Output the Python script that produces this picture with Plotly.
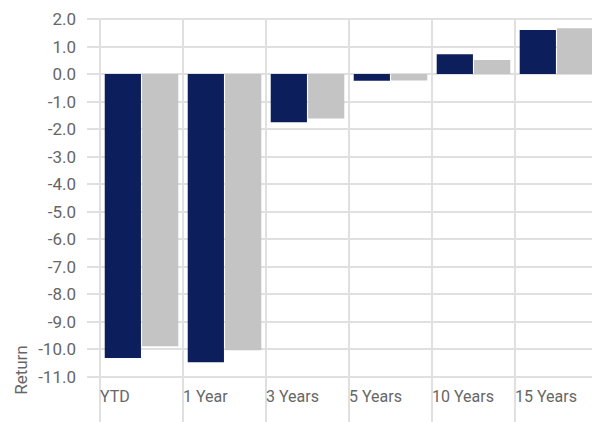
import plotly.graph_objects as go

# Trailing return periods and the two series plotted for each
periods = ["YTD", "1 Year", "3 Years", "5 Years", "10 Years", "15 Years"]
fund_returns = [-10.32, -10.48, -1.75, -0.24, 0.72, 1.60]
benchmark_returns = [-9.90, -10.04, -1.61, -0.23, 0.51, 1.67]
y_ticks = [2, 1, 0, -1, -2, -3, -4, -5, -6, -7, -8, -9, -10, -11]

FONT = "Roboto, 'Liberation Sans', sans-serif"
TEXT = "#666666"
GRID = "#e0e0e0"

# bars sit in the middle of each period band; labels start at the band's left edge
centers = [i + 0.5 for i in range(len(periods))]
edges = list(range(len(periods)))

fig = go.Figure()
fig.add_trace(go.Bar(x=centers, y=fund_returns, name="Fund",
                     marker=dict(color="#0c1f5c", line=dict(width=0))))
fig.add_trace(go.Bar(x=centers, y=benchmark_returns, name="Benchmark",
                     marker=dict(color="#c4c4c4", line=dict(width=0))))

fig.update_layout(
    width=592, height=422,
    margin=dict(l=87, r=0, t=18, b=0),
    paper_bgcolor="white", plot_bgcolor="white",
    barmode="group", bargap=0.1, bargroupgap=0.03,
    showlegend=False,
    font=dict(family=FONT, size=17, color=TEXT),
    xaxis=dict(
        range=[-0.157, 5.928],
        tickvals=edges, ticktext=periods,
        ticklabelposition="outside right",
        showgrid=True, gridcolor=GRID, gridwidth=1.5,
        zeroline=False, showline=False, ticks="",
        anchor="free", position=0.092,
        tickfont=dict(family=FONT, size=16, color=TEXT),
    ),
    yaxis=dict(
        range=[-12.65, 2.04],
        tickvals=y_ticks, ticktext=[f"{v:.1f}" for v in y_ticks],
        showgrid=True, gridcolor=GRID, gridwidth=1.5,
        zeroline=False, showline=False, ticks="",
        ticklabelstandoff=10,
        tickfont=dict(family=FONT, size=17, color=TEXT),
    ),
    annotations=[dict(
        text="Return", textangle=-90,
        xref="paper", yref="paper", x=-0.13, y=0.13,
        xanchor="center", yanchor="middle", showarrow=False,
        font=dict(family=FONT, size=17, color=TEXT),
    )],
)

fig.write_html("out.html")
